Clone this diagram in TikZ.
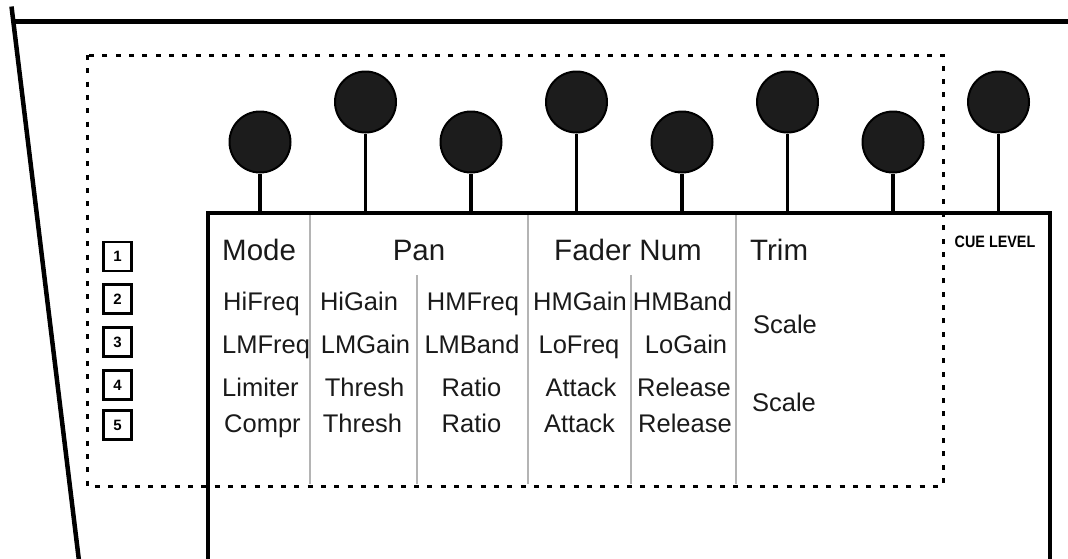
\documentclass[tikz,border=0pt]{standalone}
\usepackage{fontspec}
\setmainfont{Liberation Sans}
\definecolor{knobfill}{HTML}{1C1C1C}
\definecolor{sepgray}{HTML}{B4B4B4}
\definecolor{txt}{HTML}{1A1A1A}
\begin{document}
\begin{tikzpicture}[x=1pt,y=-1pt,
  frame/.style={line width=4.5pt,black},
  panel/.style={line width=4pt,black,line join=miter},
  knob/.style={circle,draw=black,line width=2pt,fill=knobfill,minimum size=61pt,inner sep=0pt},
  stem/.style={line width=3.2pt,black},
  sep/.style={line width=1.1pt,sepgray},
  zone/.style={line width=3pt,black,dash pattern=on 5pt off 8.3pt},
  hdr/.style={font=\fontsize{29.5}{30}\selectfont,text=txt,inner sep=0pt,anchor=base},
  cell/.style={font=\fontsize{25.5}{26}\selectfont,text=txt,inner sep=0pt,anchor=base},
  numbox/.style={draw=black,line width=2.8pt,minimum width=28pt,minimum height=29pt,
                 inner sep=0pt,font=\fontsize{15}{15}\bfseries\selectfont},
  cue/.style={font=\fontsize{16.5}{17}\bfseries\selectfont,text=black,inner sep=0pt,anchor=base},
]
\useasboundingbox (0,0) rectangle (1068,558);

% outer console edges
\draw[frame] (13,21.5) -- (1075,21.5);
\draw[frame] (11.5,6.5) -- (79.5,565);

% top edge of the display panel
\coordinate (ptop) at (0,213);

% column separators
\draw[sep] (310,213) -- (310,484);
\draw[sep] (417,275) -- (417,484);
\draw[sep] (528,213) -- (528,484);
\draw[sep] (631,275) -- (631,484);
\draw[sep] (736,213) -- (736,484);

% display panel
\draw[panel] (208,575) -- (208,213) -- (1050,213) -- (1050,575);

% dotted zone
\draw[zone] (87,55) rectangle (943,486);

% knobs and their stems
\node[knob] (k1) at (260,142) {};
\node[knob] (k2) at (365.5,102) {};
\node[knob] (k3) at (471,142) {};
\node[knob] (k4) at (576.5,102) {};
\node[knob] (k5) at (682,142) {};
\node[knob] (k6) at (787.5,102) {};
\node[knob] (k7) at (893,142) {};
\node[knob] (k8) at (998.5,102) {};
\foreach \k in {k1,k2,k3,k4,k5,k6,k7,k8}
  \draw[stem] (\k.south) -- (\k.south |- ptop);

% numbered buttons
\node[numbox] (b1) at (117.5,256.5) {1};
\node[numbox] (b2) at (117.5,299) {2};
\node[numbox] (b3) at (117.5,342) {3};
\node[numbox] (b4) at (117.5,385) {4};
\node[numbox] (b5) at (117.5,425) {5};

% header row
\node[hdr,anchor=base west] (hmode) at (222,260) {Mode};
\node[hdr] (hpan) at (419,260) {Pan};
\node[hdr] (hfader) at (628,260) {Fader Num};
\node[hdr,anchor=base west] (htrim) at (750,260) {Trim};

% row 1
\node[cell,anchor=base west] (r1a) at (223,310.5) {HiFreq};
\node[cell] (r1b) at (359,310.5) {HiGain};
\node[cell] (r1c) at (473,310.5) {HMFreq};
\node[cell] (r1d) at (580,310.5) {HMGain};
\node[cell] (r1e) at (682.5,310.5) {HMBand};

% row 2
\node[cell,anchor=base west] (r2a) at (222,353) {LMFreq};
\node[cell] (r2b) at (365.5,353) {LMGain};
\node[cell] (r2c) at (472,353) {LMBand};
\node[cell] (r2d) at (579,353) {LoFreq};
\node[cell] (r2e) at (686,353) {LoGain};

% row 3
\node[cell,anchor=base west] (r3a) at (222,396) {Limiter};
\node[cell] (r3b) at (364.5,396) {Thresh};
\node[cell] (r3c) at (471.5,396) {Ratio};
\node[cell] (r3d) at (581,396) {Attack};
\node[cell] (r3e) at (684,396) {Release};

% row 4
\node[cell,anchor=base west] (r4a) at (224,432.5) {Compr};
\node[cell] (r4b) at (362.5,432.5) {Thresh};
\node[cell] (r4c) at (471.5,432.5) {Ratio};
\node[cell] (r4d) at (579.5,432.5) {Attack};
\node[cell] (r4e) at (685,432.5) {Release};

% trim column
\node[cell] (s1) at (785,333) {Scale};
\node[cell] (s2) at (784,411.5) {Scale};

% cue level label
\node[cue] (cuelbl) at (995,247) {\scalebox{0.87}[1]{CUE LEVEL}};
\end{tikzpicture}
\end{document}
